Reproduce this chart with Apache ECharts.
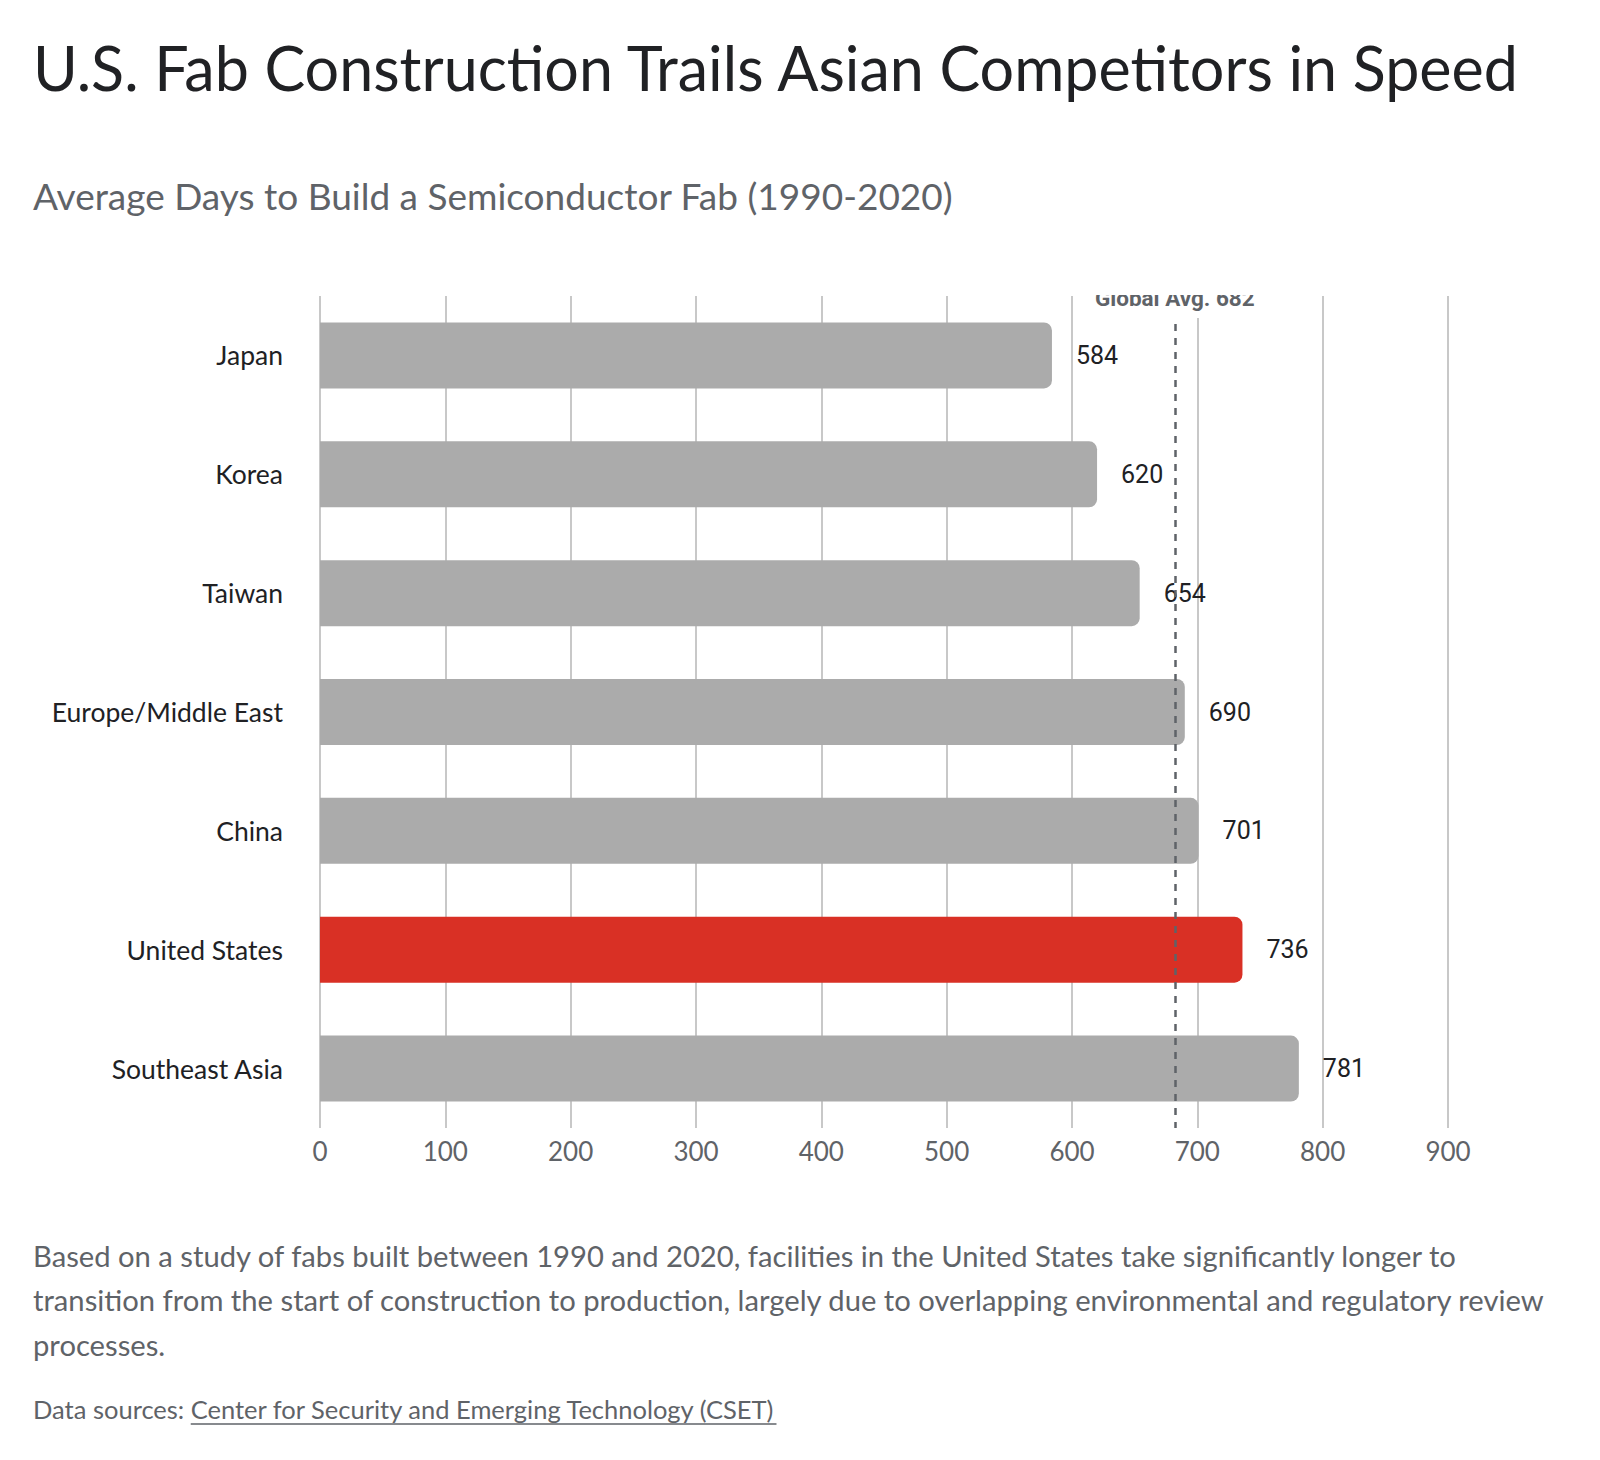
<!DOCTYPE html>
<html>
<head>
<meta charset="utf-8">
<script src="https://cdn.jsdelivr.net/npm/echarts@6/dist/echarts.min.js"></script>
<style>
  html, body { margin: 0; padding: 0; background: #fff; }
  #main { width: 1600px; height: 1460px; }
</style>
</head>
<body>
<div id="main"></div>
<script>
// data
const regions = ['Japan', 'Korea', 'Taiwan', 'Europe/Middle East', 'China', 'United States', 'Southeast Asia'];
const avgDays = [584, 620, 654, 690, 701, 736, 781];
const highlightRegion = 'United States';
const globalAvg = 682;

const titleText = 'U.S. Fab Construction Trails Asian Competitors in Speed';
const subtitleText = 'Average Days to Build a Semiconductor Fab (1990-2020)';
const noteLines = [
  'Based on a study of fabs built between 1990 and 2020, facilities in the United States take significantly longer to',
  'transition from the start of construction to production, largely due to overlapping environmental and regulatory review',
  'processes.'
];
const sourcePrefix = 'Data sources: ';
const sourceLink = 'Center for Security and Emerging Technology (CSET)';

const headFont = 'Lato';
const numFont = 'Roboto';
const grey = '#5f6368';
const ink = '#202124';

let myChart = echarts.init(document.getElementById('main'), null, { renderer: 'svg' });

// measure the prefix so the link underline starts in the right place
let ctx = document.createElement('canvas').getContext('2d');
ctx.font = '25.5px ' + headFont;
let prefixW = ctx.measureText(sourcePrefix).width;
let linkW = ctx.measureText(sourceLink).width;

let barData = regions.map(function (r, i) {
  return {
    value: avgDays[i],
    itemStyle: { color: r === highlightRegion ? '#d93025' : '#ababab' }
  };
});

let option = {
  animation: false,
  graphic: [
    { type: 'text', left: 33, top: 37, style: { text: titleText, font: '400 61px ' + headFont, fill: ink } },
    { type: 'text', left: 33, top: 177, style: { text: subtitleText, font: '400 37px ' + headFont, fill: grey } },
    { type: 'text', left: 33, top: 1233, style: { text: noteLines.join('\n'), font: '400 29.2px ' + headFont, fill: grey, lineHeight: 44.5 } },
    { type: 'text', left: 33, top: 1396, style: { text: sourcePrefix + sourceLink, font: '400 25.5px ' + headFont, fill: grey } },
    { type: 'line', shape: { x1: 33 + prefixW, y1: 1424, x2: 33 + prefixW + linkW, y2: 1424 }, style: { stroke: grey, lineWidth: 1.5 } },
    // hides the top of the average label, as in the reference
    { type: 'rect', z: 100, shape: { x: 1000, y: 240, width: 400, height: 55 }, style: { fill: '#fff' } }
  ],
  grid: { left: 320, right: 152, top: 296, bottom: 332 },
  xAxis: {
    type: 'value',
    min: 0,
    max: 900,
    interval: 100,
    axisLine: { show: false },
    axisTick: { show: false },
    splitLine: { lineStyle: { color: '#c8c8c8', width: 2 } },
    axisLabel: { color: grey, fontSize: 26, fontFamily: headFont, margin: 10 }
  },
  yAxis: {
    type: 'category',
    data: regions,
    inverse: true,
    axisLine: { show: false },
    axisTick: { show: false },
    axisLabel: { color: ink, fontSize: 26.5, fontFamily: headFont, margin: 37 }
  },
  series: [{
    type: 'bar',
    data: barData,
    barWidth: 66,
    itemStyle: { borderRadius: [0, 8, 8, 0] },
    label: {
      show: true,
      position: 'right',
      distance: 24,
      color: ink,
      fontSize: 25,
      fontFamily: numFont
    },
    markLine: {
      symbol: 'none',
      silent: true,
      lineStyle: { color: '#5f6368', type: [7, 7], width: 2.5 },
      label: {
        show: true,
        position: 'start',
        distance: -22,
        formatter: 'Global Avg. ' + globalAvg,
        color: grey,
        fontSize: 22.5,
        fontWeight: 'bold',
        fontFamily: numFont,
        backgroundColor: '#fff',
        padding: [4, 8, 9, 8]
      },
      data: [{ xAxis: globalAvg }]
    }
  }]
};

myChart.setOption(option);
</script>
</body>
</html>
